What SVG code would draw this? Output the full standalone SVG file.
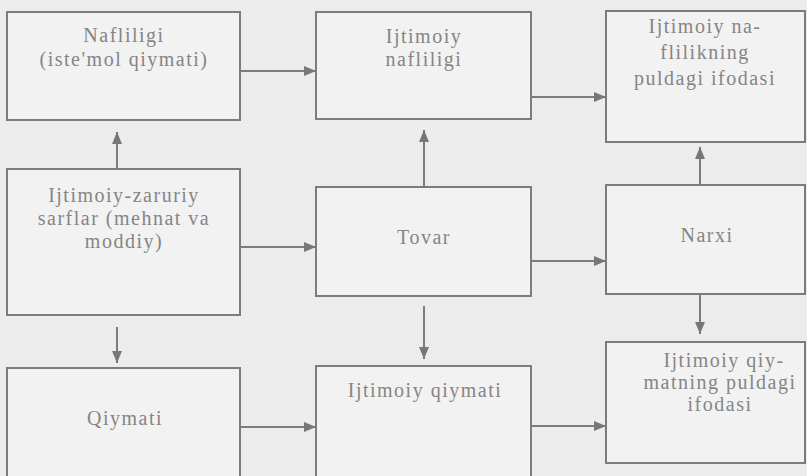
<svg xmlns="http://www.w3.org/2000/svg" width="807" height="476" viewBox="0 0 807 476">
<style>
.box{fill:#f2f2f2;stroke:#7c7c7c;stroke-width:2}
.t{font-family:"Liberation Serif","Times New Roman",serif;font-size:20px;fill:#858585;text-anchor:middle;letter-spacing:1.5px}
.c{stroke:#7c7c7c;stroke-width:2;fill:none;marker-end:url(#ah)}
</style>
<defs>
<marker id="ah" markerUnits="userSpaceOnUse" markerWidth="12" markerHeight="10" refX="12" refY="5" orient="auto">
<path d="M0,0 L12,5 L0,10 z" fill="#777"/>
</marker>
</defs>
<rect x="0" y="0" width="807" height="476" fill="#ececec"/>
<g id="nafliligi">
<rect class="box" x="7" y="12" width="233" height="108"/>
<text class="t" x="124" y="42">Nafliligi</text>
<text class="t" x="124" y="66">(iste'mol qiymati)</text>
</g>
<g id="ijtimoiy-nafliligi">
<rect class="box" x="316" y="12" width="215" height="107"/>
<text class="t" x="424" y="43">Ijtimoiy</text>
<text class="t" x="424" y="66">nafliligi</text>
</g>
<g id="ijtimoiy-naflilik-puldagi">
<rect class="box" x="606" y="11" width="199" height="131"/>
<text class="t" x="705" y="33">Ijtimoiy na-</text>
<text class="t" x="705" y="59">flilikning</text>
<text class="t" x="705" y="85">puldagi ifodasi</text>
</g>
<g id="ijtimoiy-zaruriy">
<rect class="box" x="7" y="169" width="233" height="146"/>
<text class="t" x="124" y="202">Ijtimoiy-zaruriy</text>
<text class="t" x="124" y="225">sarflar (mehnat va</text>
<text class="t" x="124" y="248">moddiy)</text>
</g>
<g id="tovar">
<rect class="box" x="316" y="187" width="215" height="109"/>
<text class="t" x="424" y="244">Tovar</text>
</g>
<g id="narxi">
<rect class="box" x="606" y="185" width="199" height="109"/>
<text class="t" x="707" y="242">Narxi</text>
</g>
<g id="qiymati">
<rect class="box" x="7" y="368" width="233" height="120"/>
<text class="t" x="125" y="425">Qiymati</text>
</g>
<g id="ijtimoiy-qiymati">
<rect class="box" x="316" y="366" width="215" height="120"/>
<text class="t" x="425" y="397">Ijtimoiy qiymati</text>
</g>
<g id="ijtimoiy-qiymat-puldagi">
<rect class="box" x="606" y="342" width="199" height="121"/>
<text class="t" x="724" y="367">Ijtimoiy qiy-</text>
<text class="t" x="720" y="389">matning puldagi</text>
<text class="t" x="720" y="411">ifodasi</text>
</g>
<g id="connectors">
<line class="c" x1="240" y1="71" x2="316" y2="71"/>
<line class="c" x1="531" y1="97" x2="606" y2="97"/>
<line class="c" x1="117" y1="169" x2="117" y2="132"/>
<line class="c" x1="424" y1="187" x2="424" y2="130"/>
<line class="c" x1="700" y1="185" x2="700" y2="147"/>
<line class="c" x1="240" y1="247" x2="316" y2="247"/>
<line class="c" x1="531" y1="261" x2="606" y2="261"/>
<line class="c" x1="117" y1="327" x2="117" y2="363"/>
<line class="c" x1="424" y1="306" x2="424" y2="359"/>
<line class="c" x1="700" y1="294" x2="700" y2="334"/>
<line class="c" x1="240" y1="427" x2="316" y2="427"/>
<line class="c" x1="531" y1="426" x2="606" y2="426"/>
</g>
</svg>
